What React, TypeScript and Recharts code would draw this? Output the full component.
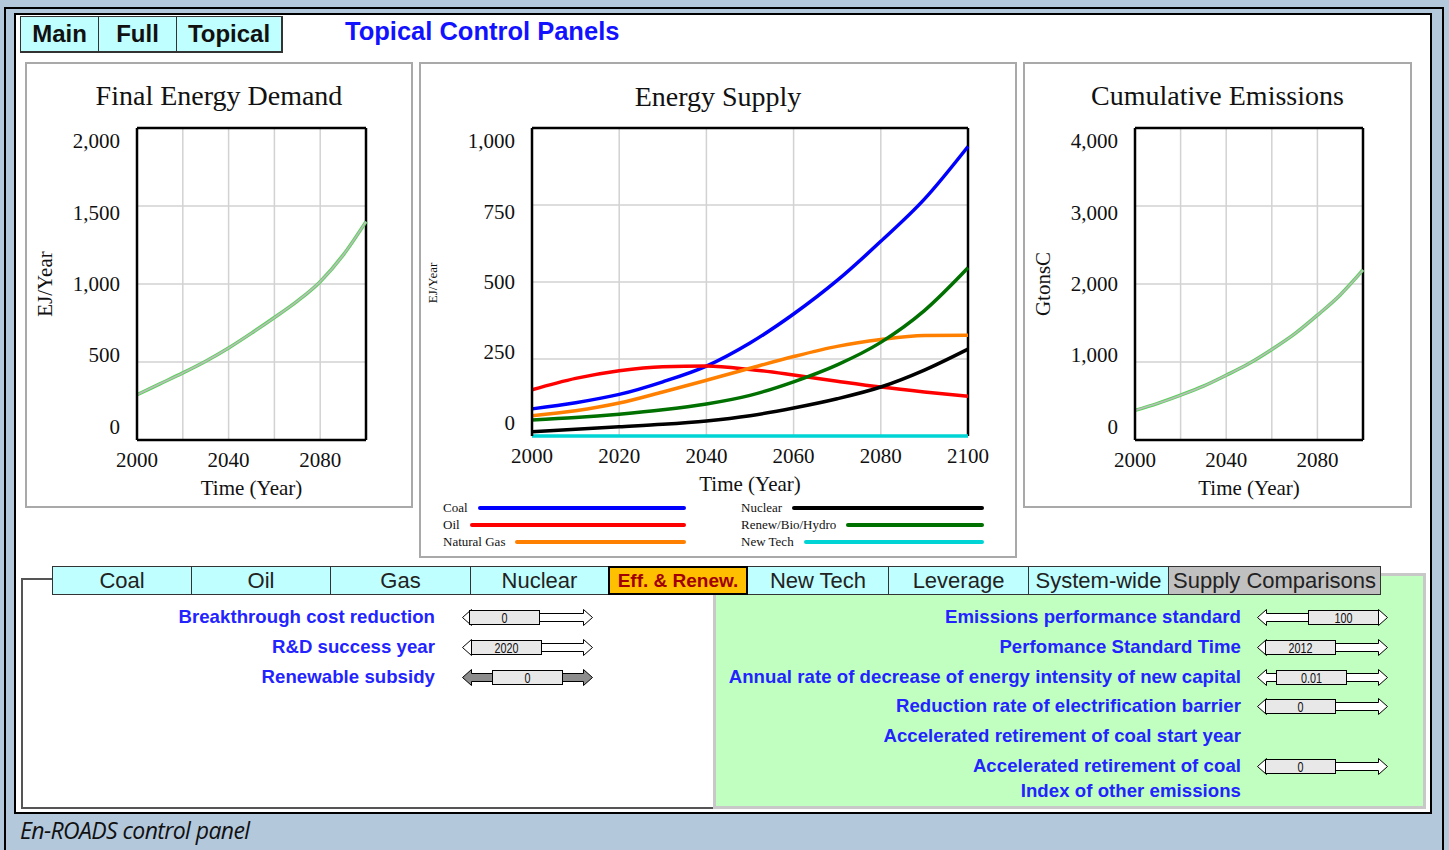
import React from "react";
import { LineChart, Line, XAxis, YAxis, CartesianGrid, ReferenceLine } from "recharts";

// ---- data ----
const years = [2000, 2010, 2020, 2030, 2040, 2050, 2060, 2070, 2080, 2090, 2100];

// Final Energy Demand (EJ/Year)
const finalDemand = [290, 360, 430, 505, 590, 685, 785, 890, 1015, 1185, 1400];
// Cumulative Emissions (GtonsC)
const cumEmissions = [380, 470, 575, 690, 830, 980, 1160, 1360, 1600, 1860, 2180];

// Energy Supply (EJ/Year)
const coal = [88, 108, 135, 176, 227, 302, 396, 505, 632, 769, 940];
const oil = [150, 187, 212, 225, 227, 216, 198, 178, 159, 143, 129];
const naturalGas = [66, 82, 107, 143, 181, 220, 258, 291, 313, 326, 327];
const nuclear = [14, 22, 30, 38, 49, 66, 91, 121, 159, 214, 282];
const renewables = [52, 60, 71, 85, 104, 132, 176, 231, 304, 407, 546];
const newTech = [0, 0, 0, 0, 0, 0, 0, 0, 0, 0, 0];

const xTicks = [2000, 2020, 2040, 2060, 2080, 2100];
const sideXLabels = [2000, 2040, 2080];
const demandTicks = [0, 500, 1000, 1500, 2000];
const emissionTicks = [0, 1000, 2000, 3000, 4000];
const supplyTicks = [0, 250, 500, 750, 1000];

const supplySeries = [
  { key: "coal", name: "Coal", values: coal, color: "#0000ff" },
  { key: "oil", name: "Oil", values: oil, color: "#ff0000" },
  { key: "gas", name: "Natural Gas", values: naturalGas, color: "#ff8000" },
  { key: "nuclear", name: "Nuclear", values: nuclear, color: "#000000" },
  { key: "renew", name: "Renew/Bio/Hydro", values: renewables, color: "#007000" },
  { key: "newtech", name: "New Tech", values: newTech, color: "#00d4d4" },
];

const topTabs = ["Main", "Full", "Topical"];
const topTabEdges = [20, 98, 176, 282];
const bottomTabs = ["Coal", "Oil", "Gas", "Nuclear", "Eff. & Renew.", "New Tech", "Leverage", "System-wide", "Supply Comparisons"];
const bottomTabEdges = [52, 191, 330, 470, 608, 747, 888, 1028, 1168, 1380];

const leftControls = [
  { label: "Breakthrough cost reduction", value: "0", box: 7, filled: false },
  { label: "R&D success year", value: "2020", box: 9, filled: false },
  { label: "Renewable subsidy", value: "0", box: 30, filled: true },
];
const rightControls = [
  { label: "Emissions performance standard", value: "100", box: 51 },
  { label: "Perfomance Standard Time", value: "2012", box: 8 },
  { label: "Annual rate of decrease of energy intensity of new capital", value: "0.01", box: 19 },
  { label: "Reduction rate of electrification barrier", value: "0", box: 8 },
  { label: "Accelerated retirement of coal start year", value: null, box: 0 },
  { label: "Accelerated retirement of coal", value: "0", box: 8 },
  { label: "Index of other emissions", value: null, box: 0 },
];

const SERIF = "'Liberation Serif', 'Times New Roman', serif";
const SANS = "'Liberation Sans', Arial, sans-serif";

const demandData = years.map((y, i) => ({ year: y, value: finalDemand[i] }));
const emissionData = years.map((y, i) => ({ year: y, value: cumEmissions[i] }));
const supplyData = years.map((y, i) => {
  const row: any = { year: y };
  supplySeries.forEach((s) => (row[s.key] = s.values[i]));
  return row;
});

// Vensim squeezes the y labels toward the middle of the plot
const makeYTick = (top: number, bottom: number, left: number) => (p: any) => {
  const c = (top + bottom) / 2;
  const y = c + (p.y - c) * 0.915;
  return (
    <text x={left - 17} y={y} textAnchor="end" dominantBaseline="central" fontSize={21} fontFamily={SERIF} fill="#111">
      {Number(p.payload.value).toLocaleString("en-US")}
    </text>
  );
};

const makeXTick = (bottom: number, shown: number[] | null) => (p: any) => {
  if (shown && !shown.includes(p.payload.value)) return <g />;
  return (
    <text x={p.x} y={bottom + 20} textAnchor="middle" dominantBaseline="central" fontSize={21} fontFamily={SERIF} fill="#111">
      {p.payload.value}
    </text>
  );
};

function SideChart({ left, width, title, yLabel, data, yMax, yTicks, right }: any) {
  const height = 446;
  const top = 66;
  const plotBottom = 378;
  const plotLeft = 112;
  return (
    <>
      <div style={{ position: "absolute", left, top: 62, width, height, border: "2px solid #a9a9a9", boxSizing: "border-box" }} />
      <div style={{ position: "absolute", left, top: 62 + 34, width, textAlign: "center", transform: "translateY(-50%)", fontFamily: SERIF, fontSize: 28, color: "#111" }}>
        {title}
      </div>
      <div style={{ position: "absolute", left: left + 20, top: 62 + 222, transform: "translate(-50%, -50%) rotate(-90deg)", fontFamily: SERIF, fontSize: 21, color: "#111", whiteSpace: "nowrap" }}>
        {yLabel}
      </div>
      <div style={{ position: "absolute", left: left + plotLeft + (width - plotLeft - right) / 2, top: 488, transform: "translate(-50%, -50%)", fontFamily: SERIF, fontSize: 21, color: "#111", whiteSpace: "nowrap" }}>
        Time (Year)
      </div>
      <div style={{ position: "absolute", left, top: 62 }}>
        <LineChart width={width} height={height} data={data} margin={{ top, right, bottom: height - plotBottom - 30, left: plotLeft - 60 }}>
          <CartesianGrid stroke="#d2d2d2" strokeWidth={1.5} />
          <XAxis dataKey="year" type="number" domain={[2000, 2100]} ticks={xTicks} height={30} tickLine={false} axisLine={{ stroke: "#000", strokeWidth: 2.5 }} tick={makeXTick(plotBottom, sideXLabels)} />
          <YAxis type="number" domain={[0, yMax]} ticks={yTicks} width={60} tickLine={false} axisLine={{ stroke: "#000", strokeWidth: 2.5 }} tick={makeYTick(top, plotBottom, plotLeft)} />
          <ReferenceLine y={yMax} stroke="#000" strokeWidth={2.5} />
          <ReferenceLine x={2100} stroke="#000" strokeWidth={2.5} />
          <Line type="monotone" dataKey="value" stroke="#5ad25a" strokeWidth={3.5} dot={false} isAnimationActive={false} />
          <Line type="monotone" dataKey="value" stroke="#bdbdbd" strokeWidth={1.6} dot={false} isAnimationActive={false} />
        </LineChart>
      </div>
    </>
  );
}

function SupplyChart() {
  const left = 419;
  const width = 598;
  const height = 438;
  const top = 66;
  const plotBottom = 374;
  const plotLeft = 113;
  const right = 49;
  const col1 = supplySeries.slice(0, 3);
  const col2 = supplySeries.slice(3);
  const legendCol = (items: any[], x: number) => (
    <div style={{ position: "absolute", left: x, top: 499, width: 243 }}>
      {items.map((s) => (
        <div key={s.key} style={{ display: "flex", alignItems: "center", height: 17 }}>
          <span style={{ fontFamily: SERIF, fontSize: 13, color: "#111", marginRight: 10, whiteSpace: "nowrap" }}>{s.name}</span>
          <div style={{ flex: 1, height: 4, borderRadius: 2, background: s.color }} />
        </div>
      ))}
    </div>
  );
  return (
    <>
      <div style={{ position: "absolute", left, top: 62, width, height: 496, border: "2px solid #a9a9a9", boxSizing: "border-box" }} />
      <div style={{ position: "absolute", left, top: 62 + 35, width, textAlign: "center", transform: "translateY(-50%)", fontFamily: SERIF, fontSize: 28, color: "#111" }}>
        Energy Supply
      </div>
      <div style={{ position: "absolute", left: 433, top: 283, transform: "translate(-50%, -50%) rotate(-90deg)", fontFamily: SERIF, fontSize: 13, color: "#111", whiteSpace: "nowrap" }}>
        EJ/Year
      </div>
      <div style={{ position: "absolute", left: 750, top: 484, transform: "translate(-50%, -50%)", fontFamily: SERIF, fontSize: 21, color: "#111", whiteSpace: "nowrap" }}>
        Time (Year)
      </div>
      <div style={{ position: "absolute", left, top: 62 }}>
        <LineChart width={width} height={height} data={supplyData} margin={{ top, right, bottom: height - plotBottom - 30, left: plotLeft - 60 }}>
          <CartesianGrid stroke="#d2d2d2" strokeWidth={1.5} />
          {/* bottom edge is left to the New Tech line, which sits on zero */}
          <XAxis dataKey="year" type="number" domain={[2000, 2100]} ticks={xTicks} height={30} tickLine={false} axisLine={false} tick={makeXTick(plotBottom, null)} />
          <YAxis type="number" domain={[0, 1000]} ticks={supplyTicks} width={60} tickLine={false} axisLine={{ stroke: "#000", strokeWidth: 2.5 }} tick={makeYTick(top, plotBottom, plotLeft)} />
          <ReferenceLine y={1000} stroke="#000" strokeWidth={2.5} />
          <ReferenceLine x={2100} stroke="#000" strokeWidth={2.5} />
          {supplySeries.map((s) => (
            <Line key={s.key} type="monotone" dataKey={s.key} stroke={s.color} strokeWidth={3.5} dot={false} isAnimationActive={false} />
          ))}
        </LineChart>
      </div>
      {legendCol(col1, 443)}
      {legendCol(col2, 741)}
    </>
  );
}

function Slider({ x, y, box, value, filled }: any) {
  const W = 130;
  const fill = filled ? "#8c8c8c" : "#fff";
  const pts = `0,9 9,1 9,5 ${W - 9},5 ${W - 9},1 ${W},9 ${W - 9},17 ${W - 9},13 9,13 9,17`;
  const cx = box + 35.5;
  return (
    <svg style={{ position: "absolute", left: x, top: y - 9 }} width={W + 2} height={19}>
      <polygon points={pts} fill={fill} stroke="#000" strokeWidth={1} transform="translate(0.5,0.5)" />
      <rect x={box + 0.5} y={2.5} width={70} height={14} fill="#e8e8e8" stroke="#000" strokeWidth={1} />
      <text x={cx} y={10} textAnchor="middle" dominantBaseline="central" fontFamily={SANS} fontSize={15} fill="#111" transform={`translate(${cx},0) scale(0.72,1) translate(${-cx},0)`}>
        {value}
      </text>
    </svg>
  );
}

export default function App() {
  const labelStyle: any = { position: "absolute", transform: "translateY(-50%)", fontFamily: SANS, fontWeight: 700, fontSize: 18.6, letterSpacing: 0.05, color: "#2323ff", whiteSpace: "nowrap", textAlign: "right" };
  return (
    <div style={{ position: "absolute", left: 0, top: 0, width: 1449, height: 850, background: "#b4c8dc", overflow: "hidden" }}>
      {/* window frame */}
      <div style={{ position: "absolute", left: 4, top: 7, width: 1440, height: 900, border: "2px solid #000", boxSizing: "border-box" }} />
      <div style={{ position: "absolute", left: 14, top: 13, width: 1418, height: 801, border: "2.5px solid #000", background: "#fff", boxSizing: "border-box" }} />

      {/* top tabs */}
      {topTabs.map((t, i) => (
        <div
          key={t}
          style={{
            position: "absolute",
            left: topTabEdges[i],
            top: 16,
            width: topTabEdges[i + 1] - topTabEdges[i] + 1,
            height: 37,
            boxSizing: "border-box",
            border: "1px solid #333",
            borderBottom: "2px solid #333",
            borderRight: i === 2 ? "2px solid #333" : "1px solid #333",
            background: "#c0ffff",
            textAlign: "center",
            fontFamily: SANS,
            fontWeight: 700,
            fontSize: 24,
            lineHeight: "34px",
            color: "#111",
          }}
        >
          {t}
        </div>
      ))}
      <div style={{ position: "absolute", left: 345, top: 31, transform: "translateY(-50%)", fontFamily: SANS, fontWeight: 700, fontSize: 25.5, color: "#1212ff" }}>
        Topical Control Panels
      </div>

      <SideChart left={25} width={388} title="Final Energy Demand" yLabel="EJ/Year" data={demandData} yMax={2000} yTicks={demandTicks} right={47} />
      <SupplyChart />
      <SideChart left={1023} width={389} title="Cumulative Emissions" yLabel="GtonsC" data={emissionData} yMax={4000} yTicks={emissionTicks} right={49} />

      {/* control panels */}
      <div style={{ position: "absolute", left: 21, top: 578, width: 694, height: 231, border: "2px solid #555", borderRight: "none", boxSizing: "border-box", background: "#fff" }} />
      <div style={{ position: "absolute", left: 713, top: 573, width: 713, height: 236, border: "3px solid #c8c8c8", boxSizing: "border-box", background: "#c0ffc0" }} />

      {bottomTabs.map((t, i) => {
        const x0 = bottomTabEdges[i];
        const x1 = bottomTabEdges[i + 1];
        const eff = t === "Eff. & Renew.";
        const grey = t === "Supply Comparisons";
        return (
          <div
            key={t}
            style={{
              position: "absolute",
              left: x0,
              top: 566,
              width: x1 - x0 + 1,
              height: 29,
              boxSizing: "border-box",
              border: eff ? "2px solid #000" : "1px solid #333",
              background: eff ? "#ffc000" : grey ? "#c0c0c0" : "#c0ffff",
              textAlign: "center",
              fontFamily: SANS,
              fontWeight: eff ? 700 : 400,
              fontSize: eff ? 19 : 22,
              lineHeight: eff ? "25px" : "27px",
              color: eff ? "#a00000" : "#222",
              whiteSpace: "nowrap",
              zIndex: eff ? 2 : 1,
            }}
          >
            {t}
          </div>
        );
      })}

      {leftControls.map((c, i) => {
        const y = 617 + i * 30;
        return (
          <React.Fragment key={c.label}>
            <div style={{ ...labelStyle, right: 1449 - 435, top: y }}>{c.label}</div>
            <Slider x={462} y={y} box={c.box} value={c.value} filled={c.filled} />
          </React.Fragment>
        );
      })}

      {rightControls.map((c, i) => {
        const y = i < 6 ? 617 + i * 29.8 : 791;
        return (
          <React.Fragment key={c.label}>
            <div style={{ ...labelStyle, right: 1449 - 1241, top: y }}>{c.label}</div>
            {c.value !== null && <Slider x={1257} y={y} box={c.box} value={c.value} filled={false} />}
          </React.Fragment>
        );
      })}

      <div style={{ position: "absolute", left: 20, top: 830, transform: "translateY(-50%)", fontFamily: "'Open Sans', sans-serif", fontStyle: "italic", fontSize: 23, color: "#111", letterSpacing: -0.6 }}>
        En-ROADS control panel
      </div>
    </div>
  );
}
